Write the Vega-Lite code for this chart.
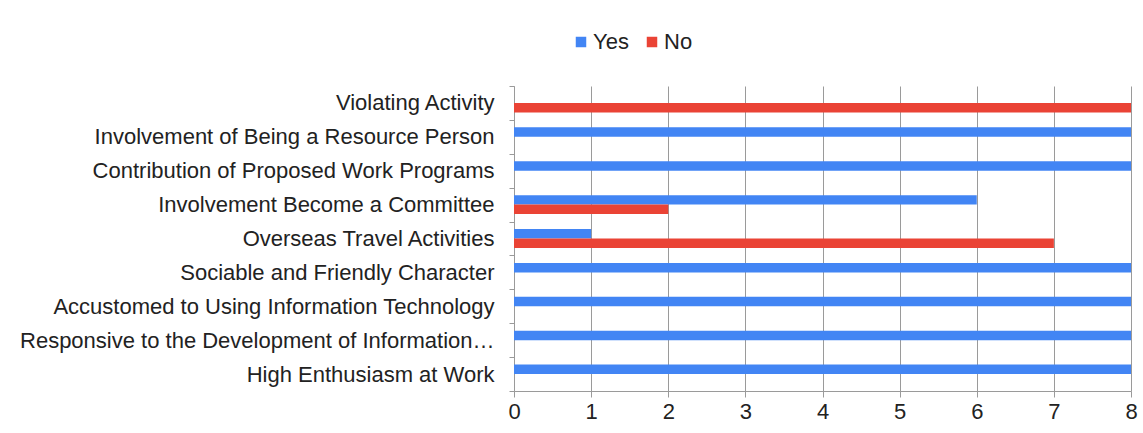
{
  "$schema": "https://vega.github.io/schema/vega-lite/v6.json",
  "autosize": {"type": "none"},
  "width": 617,
  "height": 305,
  "padding": {"left": 514, "top": 86, "right": 12, "bottom": 42},
  "background": "white",
  "config": {
    "view": {"stroke": null},
    "font": "Liberation Sans"
  },
  "data": {
    "values": [
      {"category": "Violating Activity", "answer": "Yes", "value": 0},
      {"category": "Violating Activity", "answer": "No", "value": 8},
      {"category": "Involvement of Being a Resource Person", "answer": "Yes", "value": 8},
      {"category": "Involvement of Being a Resource Person", "answer": "No", "value": 0},
      {"category": "Contribution of Proposed Work Programs", "answer": "Yes", "value": 8},
      {"category": "Contribution of Proposed Work Programs", "answer": "No", "value": 0},
      {"category": "Involvement Become a Committee", "answer": "Yes", "value": 6},
      {"category": "Involvement Become a Committee", "answer": "No", "value": 2},
      {"category": "Overseas Travel Activities", "answer": "Yes", "value": 1},
      {"category": "Overseas Travel Activities", "answer": "No", "value": 7},
      {"category": "Sociable and Friendly Character", "answer": "Yes", "value": 8},
      {"category": "Sociable and Friendly Character", "answer": "No", "value": 0},
      {"category": "Accustomed to Using Information Technology", "answer": "Yes", "value": 8},
      {"category": "Accustomed to Using Information Technology", "answer": "No", "value": 0},
      {"category": "Responsive to the Development of Information Technology", "answer": "Yes", "value": 8},
      {"category": "Responsive to the Development of Information Technology", "answer": "No", "value": 0},
      {"category": "High Enthusiasm at Work", "answer": "Yes", "value": 8},
      {"category": "High Enthusiasm at Work", "answer": "No", "value": 0}
    ]
  },
  "mark": {"type": "bar"},
  "encoding": {
    "y": {
      "field": "category",
      "type": "nominal",
      "sort": null,
      "scale": {"paddingInner": 0, "paddingOuter": 0},
      "axis": {
        "title": null,
        "tickBand": "extent",
        "tickSize": 5,
        "tickColor": "#9a9a9a",
        "domainColor": "#9a9a9a",
        "labelFontSize": 22,
        "labelColor": "#222222",
        "labelPadding": 15,
        "labelLimit": 476,
        "grid": false
      }
    },
    "yOffset": {
      "field": "answer",
      "type": "nominal",
      "sort": ["Yes", "No"],
      "scale": {"domain": ["Yes", "No"], "paddingInner": 0, "paddingOuter": 0.79}
    },
    "x": {
      "field": "value",
      "type": "quantitative",
      "scale": {"domain": [0, 8], "nice": false},
      "axis": {
        "title": null,
        "values": [0, 1, 2, 3, 4, 5, 6, 7, 8],
        "format": "d",
        "grid": true,
        "gridColor": "#9a9a9a",
        "gridOpacity": 1,
        "tickColor": "#9a9a9a",
        "tickSize": 6,
        "domainColor": "#9a9a9a",
        "labelFontSize": 22,
        "labelColor": "#222222",
        "labelPadding": 4,
        "labelFlush": false,
        "labelOverlap": false
      }
    },
    "color": {
      "field": "answer",
      "type": "nominal",
      "scale": {"domain": ["Yes", "No"], "range": ["#4285F4", "#EA4335"]},
      "legend": {
        "title": null,
        "orient": "none",
        "direction": "horizontal",
        "legendX": 56,
        "legendY": -55,
        "symbolType": "square",
        "symbolSize": 110,
        "symbolStrokeWidth": 0,
        "symbolOpacity": 1,
        "labelFontSize": 22,
        "labelColor": "#222222",
        "labelOffset": 1,
        "columnPadding": 12
      }
    }
  }
}
